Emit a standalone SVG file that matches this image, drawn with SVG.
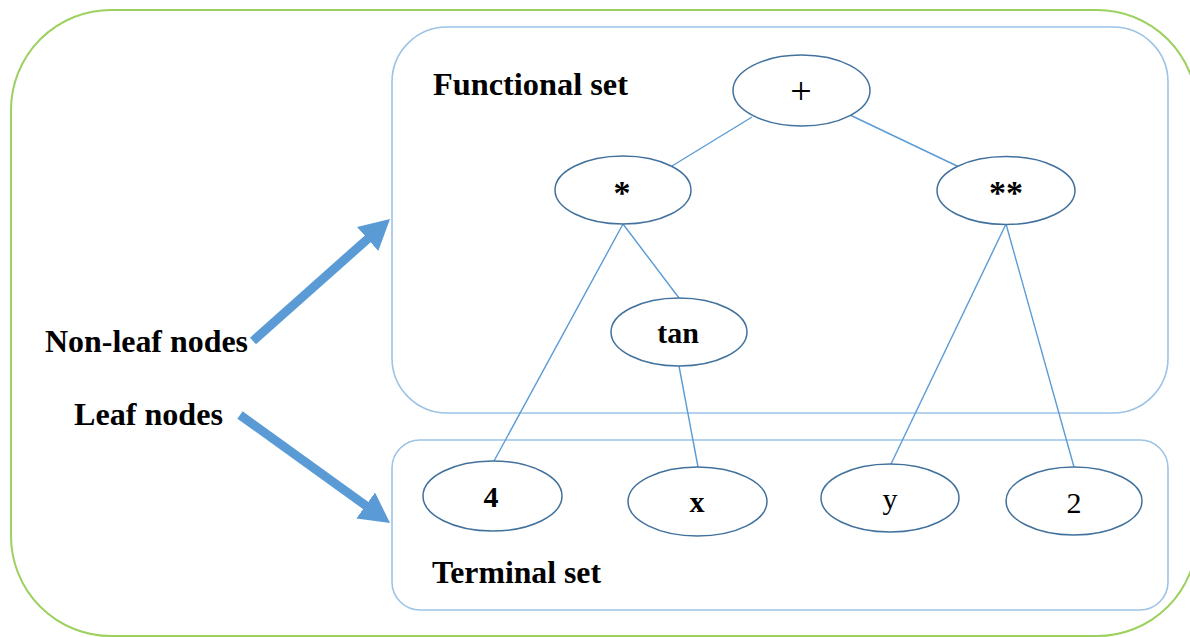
<svg xmlns="http://www.w3.org/2000/svg" width="1190" height="637" viewBox="0 0 1190 637">
<style>
.frame{fill:none;stroke:#9DD15F;stroke-width:2}
.set{fill:none;stroke:#9DC3E6;stroke-width:1.6}
.node ellipse{fill:#fff;stroke:#41719C;stroke-width:1.5}
.edge{stroke:#5B9BD5;stroke-width:1.4;fill:none}
.big{stroke:#5B9BD5;stroke-width:9;fill:none}
.lbl{font-family:"Liberation Serif","Times New Roman",serif;font-size:31px;font-weight:bold;fill:#000}
.nt{font-family:"Liberation Serif","Times New Roman",serif;font-size:30px;fill:#000;text-anchor:middle}
.b{font-weight:bold}
</style>
<defs>
<marker id="ah" markerUnits="userSpaceOnUse" markerWidth="30" markerHeight="32" viewBox="0 0 30 32" refX="10" refY="16" orient="auto">
<path d="M0,0 L30,16 L0,32 z" fill="#5B9BD5"/>
</marker>
</defs>
<rect class="frame" x="11" y="10" width="1186" height="626" rx="100" ry="100"/>
<g id="functional-set">
<rect class="set" x="392" y="27" width="776" height="386" rx="55" ry="55"/>
<text class="lbl" x="433" y="95" textLength="195" lengthAdjust="spacingAndGlyphs">Functional set</text>
</g>
<g id="terminal-set">
<rect class="set" x="392" y="440" width="776" height="170" rx="28" ry="28"/>
<text class="lbl" x="432" y="583" textLength="169" lengthAdjust="spacingAndGlyphs">Terminal set</text>
</g>
<g id="label-nonleaf"><text class="lbl" x="45" y="352" textLength="203" lengthAdjust="spacingAndGlyphs">Non-leaf nodes</text></g>
<g id="label-leaf"><text class="lbl" x="74" y="425" textLength="149" lengthAdjust="spacingAndGlyphs">Leaf nodes</text></g>
<g id="connectors">
<line class="edge" x1="752" y1="117" x2="672" y2="166"/>
<line class="edge" x1="850" y1="115" x2="957" y2="166"/>
<line class="edge" x1="623" y1="224" x2="494" y2="461"/>
<line class="edge" x1="623" y1="224" x2="679" y2="298"/>
<line class="edge" x1="679" y1="366" x2="698" y2="467"/>
<line class="edge" x1="1006" y1="224" x2="891" y2="464"/>
<line class="edge" x1="1006" y1="224" x2="1074" y2="467"/>
<line class="big" x1="253" y1="341" x2="375.1" y2="232.3" marker-end="url(#ah)"/>
<line class="big" x1="240" y1="415" x2="373.8" y2="511.3" marker-end="url(#ah)"/>
</g>
<g id="n-plus" class="node"><ellipse cx="801.5" cy="90.5" rx="68.5" ry="35.5"/><text class="nt" x="801" y="104" style="font-size:38px">+</text></g>
<g id="n-mul" class="node"><ellipse cx="623" cy="190" rx="68" ry="34"/><text class="nt b" x="622" y="204" style="font-size:34px">*</text></g>
<g id="n-pow" class="node"><ellipse cx="1006" cy="190.5" rx="69" ry="34"/><text class="nt b" x="1006" y="204" style="font-size:34px">**</text></g>
<g id="n-tan" class="node"><ellipse cx="679" cy="332" rx="68" ry="34"/><text class="nt b" x="678" y="343">tan</text></g>
<g id="n-4" class="node"><ellipse cx="492.5" cy="496" rx="69.5" ry="35"/><text class="nt b" x="491" y="507">4</text></g>
<g id="n-x" class="node"><ellipse cx="697.5" cy="501.5" rx="69.5" ry="34.5"/><text class="nt b" x="697" y="512">x</text></g>
<g id="n-y" class="node"><ellipse cx="890" cy="498" rx="69" ry="34"/><text class="nt" x="890" y="509">y</text></g>
<g id="n-2" class="node"><ellipse cx="1074" cy="501" rx="68" ry="34"/><text class="nt" x="1074" y="513">2</text></g>
</svg>
